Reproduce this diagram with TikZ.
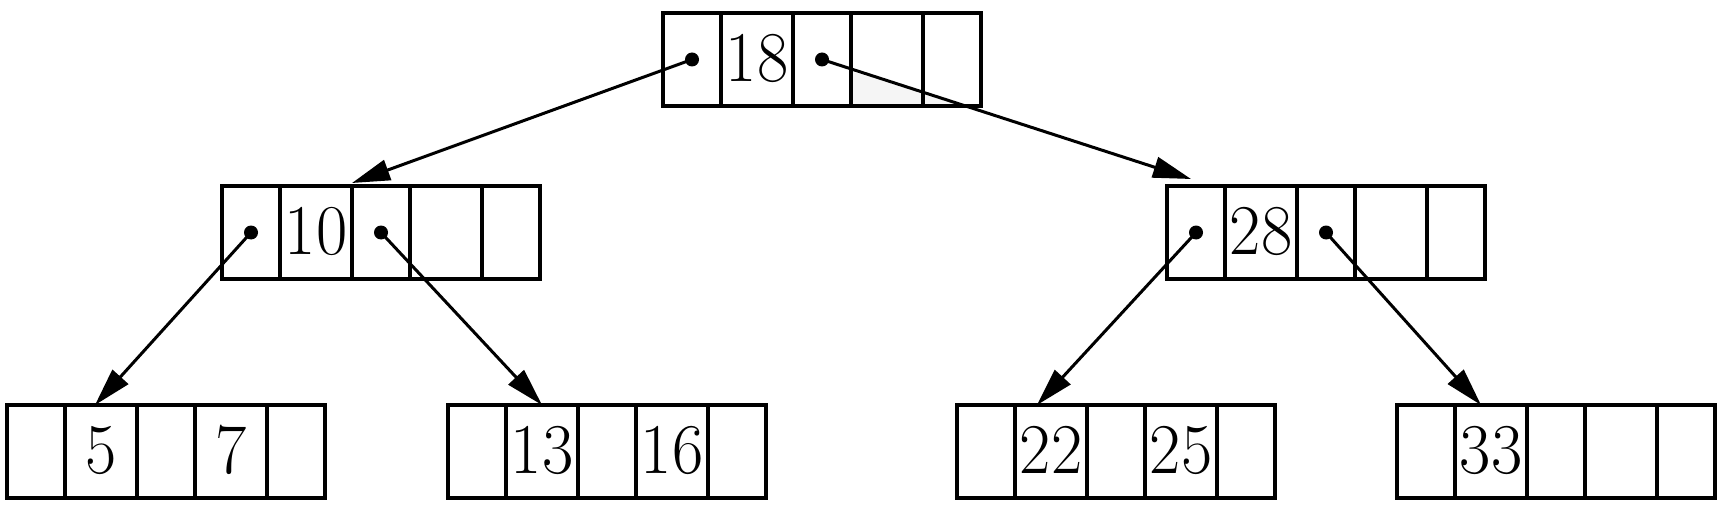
\documentclass[tikz,border=0pt]{standalone}
\usetikzlibrary{arrows.meta,calc}
\begin{document}
\begin{tikzpicture}[x=0.5pt,y=-0.5pt]
\tikzset{
  cellp/.style={draw, line width=1.6pt, minimum width=29pt, minimum height=46.5pt,
                inner sep=0pt, outer sep=0pt, anchor=north west},
  cellk/.style={cellp, minimum width=36pt, font=\fontsize{34}{35}\selectfont, text depth=2pt},
  ptrdot/.style={circle, fill=black, inner sep=0pt, minimum size=7pt},
  ptrarrow/.style={line width=1.5pt, -{Triangle[length=19pt,width=10.5pt]}},
  shade/.style={fill=gray!8}
}
\newcommand\keytext[1]{\scalebox{1}[1.05]{#1}}
\newcommand\bbox[5]{%
  \node[cellp] (#1-1) at (#2,#3) {};
  \node[cellk] (#1-2) at (#1-1.north east) {\keytext{#4}};
  \node[cellp] (#1-3) at (#1-2.north east) {};
  \node[cellk] (#1-4) at (#1-3.north east) {\keytext{#5}};
  \node[cellp] (#1-5) at (#1-4.north east) {};
}
\useasboundingbox (0,0) rectangle (1732,518);
% faint shading inside the root node
\fill[shade] (853,105) -- (853,72) -- (965,105) -- cycle;
% nodes
\bbox{root}{663}{13}{18}{}
\bbox{L}{222}{186}{10}{}
\bbox{R}{1167}{186}{28}{}
\bbox{A}{7}{405}{5}{7}
\bbox{B}{448}{405}{13}{16}
\bbox{C}{957}{405}{22}{25}
\bbox{D}{1397}{405}{33}{}
% pointer dots
\node[ptrdot] (root-d1) at (root-1.center) {};
\node[ptrdot] (root-d2) at (root-3.center) {};
\node[ptrdot] (L-d1) at (L-1.center) {};
\node[ptrdot] (L-d2) at (L-3.center) {};
\node[ptrdot] (R-d1) at (R-1.center) {};
\node[ptrdot] (R-d2) at (R-3.center) {};
% arrow targets
\coordinate (tL) at ([yshift=1.5pt]L-2.north east);
\coordinate (tR) at ([xshift=-2.5pt,yshift=3.5pt]R-1.north);
\coordinate (tA) at ([xshift=-3pt]A-2.north);
\coordinate (tB) at (B-2.north);
\coordinate (tC) at ([xshift=-7pt]C-2.north);
\coordinate (tD) at ([xshift=-5pt]D-2.north);
% connectors
\draw[ptrarrow] (root-d1.center) -- (tL);
\draw[ptrarrow] (root-d2.center) -- (tR);
\draw[ptrarrow] (L-d1.center) -- (tA);
\draw[ptrarrow] (L-d2.center) -- (tB);
\draw[ptrarrow] (R-d1.center) -- (tC);
\draw[ptrarrow] (R-d2.center) -- (tD);
\end{tikzpicture}
\end{document}
